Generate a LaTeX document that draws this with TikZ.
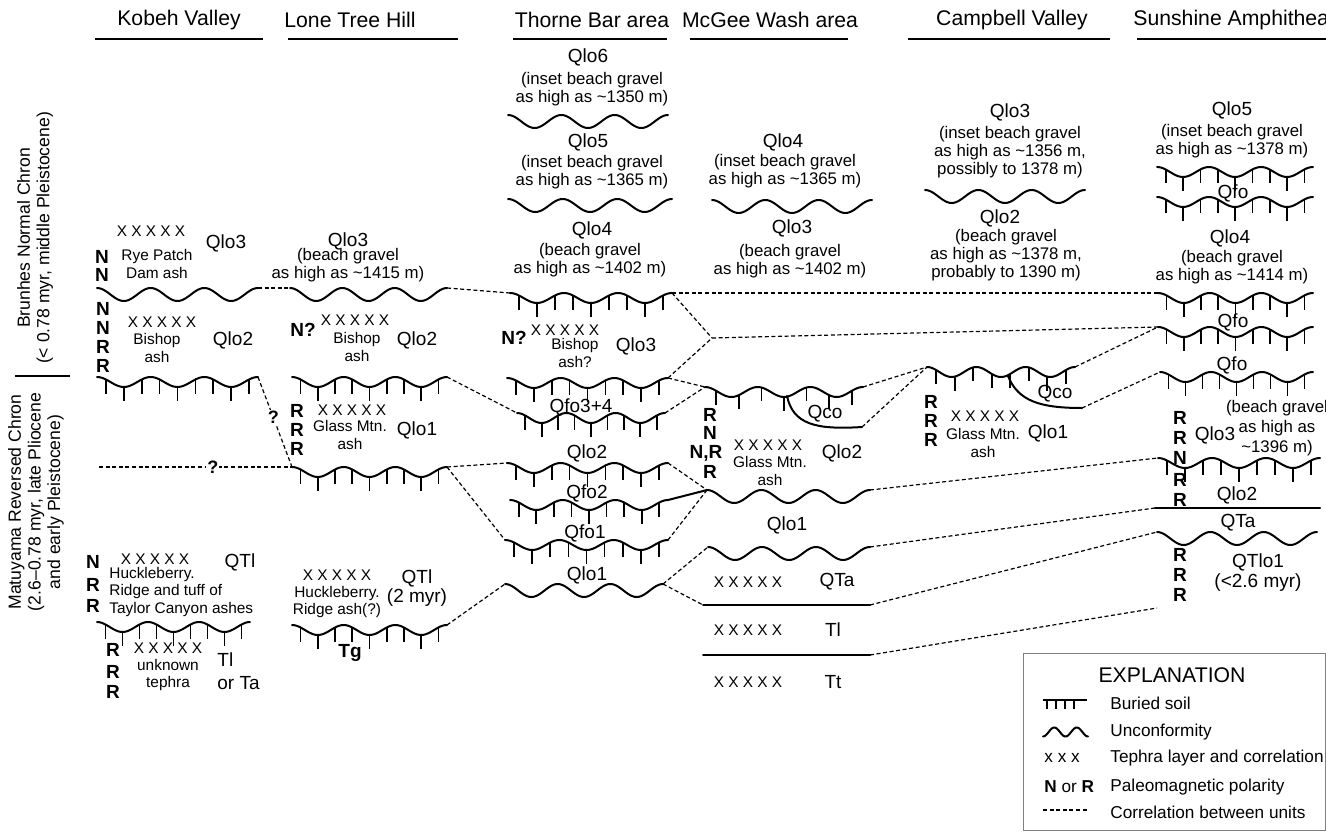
\documentclass[tikz,border=0pt]{standalone}
\usepackage{fontspec}
\setmainfont{Liberation Sans}

\begin{document}
\begin{tikzpicture}[
  x=0.5pt, y=-0.5pt,
  hdr/.style={font=\fontsize{10.6}{12}\selectfont, inner sep=0pt},
  unit/.style={font=\fontsize{9.5}{9.5}\selectfont, inner sep=0pt, align=center},
  note/.style={font=\fontsize{8.4}{9}\selectfont, inner sep=0pt, align=center},
  teph/.style={font=\fontsize{7.7}{8.9}\selectfont, inner sep=0pt, align=center},
  pol/.style={font=\fontsize{9.5}{10}\selectfont\bfseries, inner sep=0pt},
  side/.style={font=\fontsize{8.8}{9.8}\selectfont, inner sep=0pt, align=center, rotate=90},
  keytext/.style={font=\fontsize{8.6}{10}\selectfont, inner sep=0pt, anchor=west},
  wave/.style={line width=1pt, line join=round, line cap=round},
  tick/.style={line width=0.85pt},
  corr/.style={line width=0.6pt, dash pattern=on 2pt off 1.3pt},
  qmark/.style={font=\fontsize{9}{10}\selectfont\bfseries, inner sep=0.5pt, fill=white},
  hrule/.style={line width=1pt},
]
\useasboundingbox (0,0) rectangle (1326,834);
\fill[white] (0,0) rectangle (1326,834);

% Column heads with their rules.
\node[hdr] (hd-kv) at (179,20) {Kobeh Valley};
\node[hdr] (hd-lt) at (350,20) {Lone Tree Hill};
\node[hdr] (hd-tb) at (592,20) {Thorne Bar area};
\node[hdr] (hd-mw) at (770,20) {McGee Wash area};
\node[hdr] (hd-cv) at (1012,20) {Campbell Valley};
\node[hdr, anchor=west] (hd-ss) at (1133,20) {Sunshine Amphithea};
\foreach \xa/\xb in {95/263, 288/458, 513/667, 690/848, 908/1110, 1137/1326} {
  \draw[hrule] (\xa,39) -- (\xb,39);
}

% Chrons along the left margin.
\node[side] (ch-br) at (35,238) {Brunhes Normal Chron\\(< 0.78 myr, middle Pleistocene)};
\draw[line width=0.8pt] (15,376) -- (70,376);
\node[side] (ch-ma) at (36,502) {Matuyama Reversed Chron\\(2.6--0.78 myr, late Pliocene\\and early Pleistocene)};

% Unconformities: name/left x/crest y/right x.
\foreach \n/\xa/\ya/\xb in {kvU/97/288/258, ltU/290/288/447, tbUa/508/115/668, tbUb/508/199/672,
    tbUc/505/584/663, mwUa/712/200/872, mwUb/707/490/870, mwUc/708/547/870,
    cvU/925/190/1085, ssU/1157/532/1317} {
  \draw[wave] plot[domain=\xa:\xb, samples=73, smooth] (\x, {\ya+6.5*(1-cos(1080/(\xb-\xa)*(\x-\xa)))});
  \coordinate (\n-l) at (\xa,\ya);
  \coordinate (\n-r) at (\xb,\ya);
}

% Buried soils: the same wave with hanging ticks.
\foreach \n/\xa/\ya/\xb/\k in {kvSa/97/377/258/9, kvSb/97/622/250/9, ltSa/292/377/447/9,
    ltSb/292/467/447/9, ltSc/292/625/447/9, tbSa/510/293/672/9, tbSb/507/378/668/9,
    tbSc/517/413/665/9, tbSd/507/463/668/9, tbSe/510/500/668/9, tbSf/505/540/668/9,
    mwS/705/387/863/7, cvS/927/367/1075/8, ssSa/1157/167/1313/9, ssSb/1157/197/1313/9,
    ssSc/1158/293/1313/9, ssSd/1158/327/1313/9, ssSe/1160/372/1313/9, ssSf/1158/458/1320/9} {
  \draw[wave] plot[domain=\xa:\xb, samples=73, smooth] (\x, {\ya+5*(1-cos(1080/(\xb-\xa)*(\x-\xa)))});
  \coordinate (\n-l) at (\xa,\ya);
  \coordinate (\n-r) at (\xb,\ya);
  \foreach \i in {1,...,\k} {
    \pgfmathsetmacro{\tx}{\xa+(\xb-\xa)*(\i-0.5)/\k}
    \pgfmathsetmacro{\ty}{\ya+5*(1-cos(1080/(\xb-\xa)*(\tx-\xa)))}
    \draw[tick] (\tx,\ty) -- ++(0,14);
  }
}

% Channels cut into the soils (Qco).
\draw[wave] (787,396) .. controls (793,424) and (815,430) .. (862,427) coordinate (mw-ch);
\draw[wave] (1008,376) .. controls (1018,401) and (1040,408) .. (1082,408) coordinate (cv-ch);

% Plain contacts.
\foreach \n/\xa/\ya/\xb in {mwLa/703/605/870, mwLb/703/655/870, ssL/1155/508/1320} {
  \draw[wave] (\xa,\ya) coordinate (\n-l) -- (\xb,\ya) coordinate (\n-r);
}

% Tephra layers.
\foreach \n/\x/\y in {kv1/151/231, kv2/162/322, kv3/155/559, kv4/168/648, lt1/355/320,
    lt2/352/410, lt3/337/575, tb1/565/330, mw1/768/445, mw2/748/582, mw3/748/630,
    mw4/748/682, cv1/985/416} {
  \node[teph] (x-\n) at (\x,\y) {X X X X X};
}

% Paleomagnetic polarity.
\foreach \n/\x/\y/\t in {k1/102/257/N, k2/102/275/N, k3/103/309/N, k4/103/328/N, k5/103/347/R,
    k6/103/366/R, k7/93/562/N, k8/93/585/R, k9/93/606/R, k10/113/650/R, k11/113/672/R,
    k12/113/692/R, l1/303/330/N?, l2/297/411/R, l3/297/430/R, l4/297/449/R, t1/514/338/N?,
    m1/710/415/R, m2/710/433/N, m3/706/453/{N,R}, m4/710/472/R, c1/931/402/R, c2/931/421/R,
    c3/931/440/R, s1/1180/418/R, s2/1180/438/R, s3/1180/458/N, s4/1180/480/R, s5/1180/500/R,
    s6/1180/555/R, s7/1180/575/R, s8/1180/595/R} {
  \node[pol] (p-\n) at (\x,\y) {\t};
}

% Kobeh Valley.
\node[unit] (kv-qlo3) at (226,243) {Qlo3};
\node[teph] (kv-rp) at (157,264) {Rye Patch\\Dam ash};
\node[teph] (kv-bi) at (157,348) {Bishop\\ash};
\node[unit] (kv-qlo2) at (233,340) {Qlo2};
\node[unit] (kv-qtl) at (240,562) {QTl};
\node[teph, align=left, anchor=west] (kv-hr) at (109,592) {Huckleberry.\\Ridge and tuff of\\Taylor Canyon ashes};
\node[teph] (kv-un) at (168,675) {unknown\\tephra};
\node[unit, align=left, anchor=west] (kv-tl) at (217,671) {Tl\\[2pt]or Ta};

% Lone Tree Hill.
\node[unit] (lt-qlo3) at (348,241) {Qlo3};
\node[note] (lt-n3) at (348,265) {(beach gravel\\as high as \textasciitilde1415 m)};
\node[teph] (lt-bi) at (357,347) {Bishop\\ash};
\node[unit] (lt-qlo2) at (417,340) {Qlo2};
\node[teph] (lt-gm) at (350,435) {Glass Mtn.\\ash};
\node[unit] (lt-qlo1) at (417,430) {Qlo1};
\node[teph] (lt-hr) at (337,602) {Huckleberry.\\Ridge ash(?)};
\node[unit] (lt-qtl) at (417,588) {QTl\\(2 myr)};
\node[pol] (lt-tg) at (350,653) {Tg};

% Thorne Bar area.
\node[unit] (tb-qlo6) at (588,57) {Qlo6};
\node[note] (tb-n6) at (592,89) {(inset beach gravel\\as high as \textasciitilde1350 m)};
\node[unit] (tb-qlo5) at (588,142) {Qlo5};
\node[note] (tb-n5) at (592,172) {(inset beach gravel\\as high as \textasciitilde1365 m)};
\node[unit] (tb-qlo4) at (592,230) {Qlo4};
\node[note] (tb-n4) at (590,260) {(beach gravel\\as high as \textasciitilde1402 m)};
\node[teph] (tb-bi) at (575,353) {Bishop\\ash?};
\node[unit] (tb-qlo3) at (636,346) {Qlo3};
\node[unit] (tb-qfo34) at (581,407) {Qfo3+4};
\node[unit] (tb-qlo2) at (587,453) {Qlo2};
\node[unit] (tb-qfo2) at (587,493) {Qfo2};
\node[unit] (tb-qfo1) at (585,533) {Qfo1};
\node[unit] (tb-qlo1) at (587,575) {Qlo1};

% McGee Wash area.
\node[unit] (mw-qlo4) at (783,142) {Qlo4};
\node[note] (mw-n4) at (785,171) {(inset beach gravel\\as high as \textasciitilde1365 m)};
\node[unit] (mw-qlo3) at (792,228) {Qlo3};
\node[note] (mw-n3) at (790,261) {(beach gravel\\as high as \textasciitilde1402 m)};
\node[unit] (mw-qco) at (825,414) {Qco};
\node[teph] (mw-gm) at (770,471) {Glass Mtn.\\ash};
\node[unit] (mw-qlo2) at (842,453) {Qlo2};
\node[unit] (mw-qlo1) at (787,525) {Qlo1};
\node[unit] (mw-qta) at (837,582) {QTa};
\node[unit] (mw-tl) at (833,630) {Tl};
\node[unit] (mw-tt) at (833,682) {Tt};

% Campbell Valley.
\node[unit] (cv-qlo3) at (1010,112) {Qlo3};
\node[note] (cv-n3) at (1010,152) {(inset beach gravel\\as high as \textasciitilde1356 m,\\possibly to 1378 m)};
\node[unit] (cv-qlo2) at (1000,218) {Qlo2};
\node[note] (cv-n2) at (1006,255) {(beach gravel\\as high as \textasciitilde1378 m,\\probably to 1390 m)};
\node[unit] (cv-qco) at (1055,394) {Qco};
\node[teph] (cv-gm) at (983,443) {Glass Mtn.\\ash};
\node[unit] (cv-qlo1) at (1048,433) {Qlo1};

% Sunshine Amphitheater.
\node[unit] (ss-qlo5) at (1232,110) {Qlo5};
\node[note] (ss-n5) at (1232,141) {(inset beach gravel\\as high as \textasciitilde1378 m)};
\node[unit] (ss-qfo1) at (1233,193) {Qfo};
\node[unit] (ss-qlo4) at (1230,238) {Qlo4};
\node[note] (ss-n4) at (1232,267) {(beach gravel\\as high as \textasciitilde1414 m)};
\node[unit] (ss-qfo2) at (1233,322) {Qfo};
\node[unit] (ss-qfo3) at (1232,365) {Qfo};
\node[note, font=\fontsize{8.4}{10}\selectfont] (ss-n3) at (1277,428) {(beach gravel\\as high as\\\textasciitilde1396 m)};
\node[unit] (ss-qlo3) at (1215,435) {Qlo3};
\node[unit] (ss-qlo2) at (1237,495) {Qlo2};
\node[unit] (ss-qta) at (1238,523) {QTa};
\node[unit, font=\fontsize{9.5}{10}\selectfont] (ss-qtlo1) at (1258,573) {QTlo1\\(<2.6 myr)};

% Correlations between columns.
\coordinate (kv-q) at (99,467);
\coordinate (mw-j) at (712,338);
\coordinate (ss-e) at (1157,608);
\draw[corr] (kvU-r) -- (ltU-l);
\draw[corr] (kvSa-r) -- node[qmark, pos=0.45] (q-a) {?} (ltSb-l);
\draw[corr] (kv-q) -- node[qmark, pos=0.59] (q-b) {?} (ltSb-l);
\draw[corr] (ltU-r) -- (tbSa-l);
\draw[corr] (ltSa-r) -- (tbSc-l);
\draw[corr] (ltSb-r) -- (tbSd-l);
\draw[corr] (ltSb-r) -- (tbSf-l);
\draw[corr] (ltSc-r) -- (tbUc-l);
\draw[corr] (tbSa-r) -- (ssSc-l);
\draw[corr] (tbSa-r) -- (mw-j);
\draw[corr] (tbSb-r) -- (mw-j);
\draw[corr] (mw-j) -- (ssSd-l);
\draw[corr] (tbSb-r) -- (mwS-l);
\draw[corr] (tbSc-r) -- (mwS-l);
\draw[corr] (tbSd-r) -- (mwUb-l);
\draw[wave] (tbSe-r) -- (mwUb-l);
\draw[corr] (tbSf-r) -- (mwUb-l);
\draw[corr] (tbUc-r) -- (mwUc-l);
\draw[corr] (tbUc-r) -- (mwLa-l);
\draw[corr] (mwS-r) -- (cvS-l);
\draw[corr] (mw-ch) -- (cvS-l);
\draw[corr] (cvS-r) -- (ssSd-l);
\draw[corr] (cv-ch) -- (ssSe-l);
\draw[corr] (mwUb-r) -- (ssSf-l);
\draw[corr] (mwUc-r) -- (ssL-l);
\draw[corr] (mwLa-r) -- (ssU-l);
\draw[corr] (mwLb-r) -- (ss-e);

% Explanation.
\draw[draw=black!50, line width=0.5pt] (1023,653) rectangle (1325,830);
\node[hdr] (ex-title) at (1172,675) {EXPLANATION};
\draw[tick] (1043,700) -- (1087,700);
\foreach \tx in {1047,1056,1065,1074} {
  \draw[tick] (\tx,700) -- ++(0,9);
}
\node[keytext] (ex-soil) at (1110,703) {Buried soil};
\draw[wave] plot[domain=1043:1088, samples=41, smooth] (\x, {732+4.5*cos(16*(\x-1043))});
\node[keytext] (ex-unc) at (1110,732) {Unconformity};
\node[keytext] (ex-x) at (1044,758) {x x x};
\node[keytext] (ex-teph) at (1110,758) {Tephra layer and correlation};
\node[keytext] (ex-nr) at (1044,787) {\textbf{N} or \textbf{R}};
\node[keytext] (ex-pol) at (1110,787) {Paleomagnetic polarity};
\draw[corr] (1043,810) -- (1087,810);
\node[keytext] (ex-corr) at (1110,812) {Correlation between units};
\end{tikzpicture}
\end{document}
